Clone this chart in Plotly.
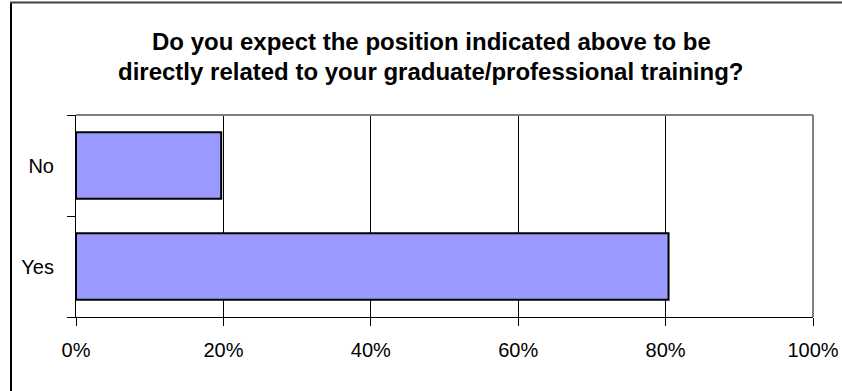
import plotly.graph_objects as go

categories = ["Yes", "No"]
values = [0.804, 0.197]
tick_vals = [0, 0.2, 0.4, 0.6, 0.8, 1.0]
tick_text = ["0%", "20%", "40%", "60%", "80%", "100%"]
title_lines = ["Do you expect the position indicated above to be",
               "directly related to your graduate/professional training?"]

W, H = 842, 391
L, R, T, B = 76, 29, 115, 74
pw = W - L - R
ph = H - T - B

def px_x(X):
    return (X - L) / pw

def px_y(Y):
    return (H - B - Y) / ph

FONT = "Liberation Sans, Arial, sans-serif"

fig = go.Figure(go.Bar(
    y=categories, x=values, orientation="h",
    marker=dict(color="#9999FF", line=dict(color="black", width=2)),
    hoverinfo="skip",
))

fig.update_layout(
    width=W, height=H,
    margin=dict(l=L, r=R, t=T, b=B, autoexpand=False),
    paper_bgcolor="white", plot_bgcolor="white",
    showlegend=False,
    bargap=0.34,
    font=dict(family=FONT, size=20, color="black"),
    xaxis=dict(range=[0, 1], tickvals=tick_vals, ticktext=tick_text,
               showgrid=True, gridcolor="black", gridwidth=1,
               showline=True, linecolor="black", linewidth=1,
               ticks="outside", ticklen=8, tickcolor="black", automargin=False,
               ticklabelstandoff=7, zeroline=False, fixedrange=True),
    yaxis=dict(type="category", categoryorder="array", categoryarray=categories,
               showgrid=False, showline=True, linecolor="black", linewidth=1,
               ticks="outside", ticklen=8, tickcolor="black", tickson="boundaries",
               automargin=False, ticklabelstandoff=17, fixedrange=True),
)

# title lines
fig.add_annotation(text="<b>%s</b>" % title_lines[0], xref="paper", yref="paper",
                   x=px_x(431), y=px_y(42), xanchor="center", yanchor="middle",
                   showarrow=False, font=dict(family=FONT, size=24, color="black"))
fig.add_annotation(text="<b>%s</b>" % title_lines[1], xref="paper", yref="paper",
                   x=px_x(430), y=px_y(71.5), xanchor="center", yanchor="middle",
                   showarrow=False, font=dict(family=FONT, size=24, color="black"))

# gray plot-area top and right borders
fig.add_shape(type="line", xref="paper", yref="paper", x0=0, x1=1, y0=1, y1=1,
              line=dict(color="#808080", width=2), layer="above")
fig.add_shape(type="line", xref="paper", yref="paper", x0=1, x1=1, y0=0, y1=1,
              line=dict(color="#808080", width=2), layer="above")

# outer chart frame (left and top edges visible)
fig.add_shape(type="line", xref="paper", yref="paper",
              x0=px_x(11), x1=px_x(11), y0=px_y(392), y1=px_y(2),
              line=dict(color="black", width=2), layer="above")
fig.add_shape(type="line", xref="paper", yref="paper",
              x0=px_x(10), x1=px_x(842), y0=px_y(2.5), y1=px_y(2.5),
              line=dict(color="#404040", width=2), layer="above")

fig.write_html("out.html", config={"displayModeBar": False},
               post_script="document.body.style.margin='0';document.body.style.overflow='hidden';")
